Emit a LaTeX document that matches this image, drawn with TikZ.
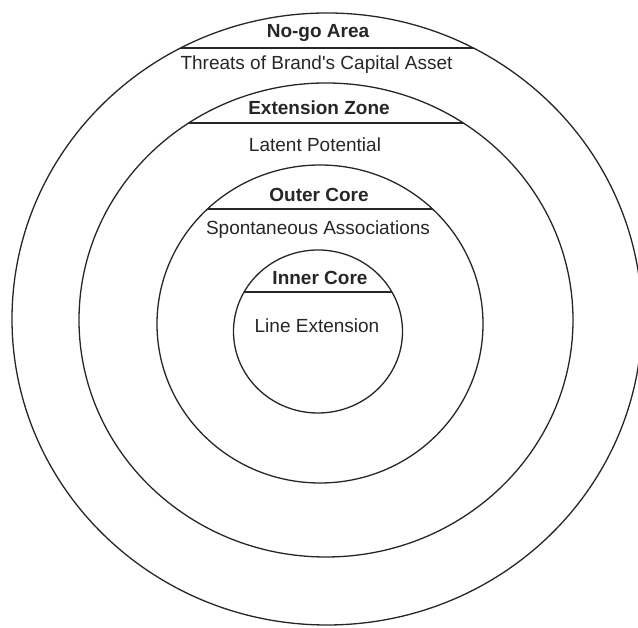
\documentclass[tikz,border=0pt]{standalone}
\usepackage{fontspec}
\setmainfont{Liberation Sans}[Ligatures=TeXOff]
\begin{document}
\begin{tikzpicture}[x=1pt,y=1pt,
  ring/.style={draw=black!85,line width=1.3pt},
  chord/.style={draw=black!85,line width=1.3pt},
  title/.style={font=\fontsize{19}{22}\selectfont\bfseries,text=black!85,inner sep=0pt},
  label/.style={font=\fontsize{19}{22}\selectfont,text=black!85,inner sep=0pt}]
\useasboundingbox (0,0) rectangle (638,628);
\clip (0,0) rectangle (638,628);

% ring centres (y measured upward from the bottom edge)
\coordinate (c1) at (327,309);
\coordinate (c2) at (326,308);
\coordinate (c3) at (320,304);
\coordinate (c4) at (318,296.5);

% the four rings
\draw[ring] (c1) ellipse [x radius=315, y radius=306];
\draw[ring] (c2) ellipse [x radius=247, y radius=237];
\draw[ring] (c3) ellipse [x radius=163, y radius=159];
\draw[ring] (c4) ellipse [x radius=84.5, y radius=81.5];

% chords that cut off each ring's cap, clipped to the ring
\coordinate (k1l) at (0,580);   \coordinate (k1r) at (638,580);
\coordinate (k2l) at (0,505);   \coordinate (k2r) at (638,505);
\coordinate (k3l) at (0,419);   \coordinate (k3r) at (638,419);
\coordinate (k4l) at (0,336);   \coordinate (k4r) at (638,336);
\begin{scope}
  \clip (c1) ellipse [x radius=315, y radius=306];
  \draw[chord] (k1l) -- (k1r);
\end{scope}
\begin{scope}
  \clip (c2) ellipse [x radius=247, y radius=237];
  \draw[chord] (k2l) -- (k2r);
\end{scope}
\begin{scope}
  \clip (c3) ellipse [x radius=163, y radius=159];
  \draw[chord] (k3l) -- (k3r);
\end{scope}
\begin{scope}
  \clip (c4) ellipse [x radius=84.5, y radius=81.5];
  \draw[chord] (k4l) -- (k4r);
\end{scope}

% captions
\node[title] (t1) at (318,595) {No-go Area};
\node[label] (l1) at (316.5,563) {Threats of Brand's Capital Asset};
\node[title] (t2) at (319,520) {Extension Zone};
\node[label] (l2) at (315,483) {Latent Potential};
\node[title] (t3) at (319,433) {Outer Core};
\node[label] (l3) at (318,398) {Spontaneous Associations};
\node[title] (t4) at (320,350) {Inner Core};
\node[label] (l4) at (317,302) {Line Extension};
\end{tikzpicture}
\end{document}
